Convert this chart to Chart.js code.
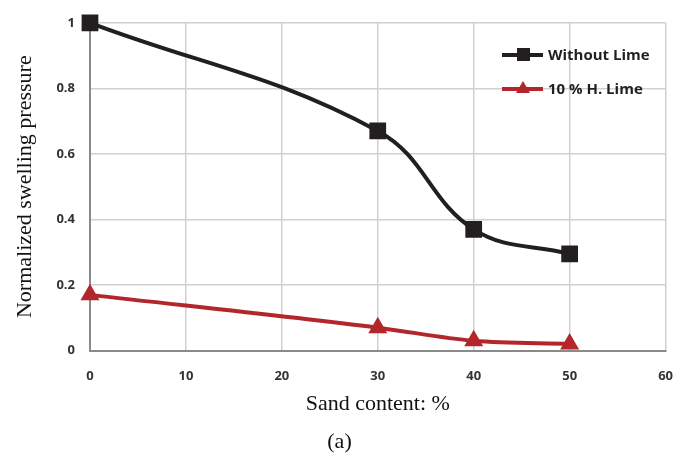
<!DOCTYPE html>
<html><head><meta charset="utf-8">
<script src="https://cdn.jsdelivr.net/npm/chart.js@4"></script>
<style>html,body{margin:0;padding:0;background:#fff}#wrap{width:691px;height:453px}</style>
</head><body><div id="wrap"><canvas id="c" width="691" height="453"></canvas></div>
<script>
const sandContent = [0, 30, 40, 50];
const withoutLime = [1, 0.67, 0.37, 0.295];
const hLime10 = [0.17, 0.07, 0.03, 0.02];
const seriesNames = ["Without Lime", "10 % H. Lime"];
const yTickLabels = ["0", "0.2", "0.4", "0.6", "0.8", "1"];
const xTickLabels = ["0", "10", "20", "30", "40", "50", "60"];

const legendPlugin = {
  id: 'insideLegend',
  afterDatasetsDraw(chart) {
    const ctx = chart.ctx;
    const items = chart.data.datasets;
    const x0 = 502, y0 = 55, gap = 34;
    ctx.save();
    items.forEach((ds, i) => {
      const y = y0 + i * gap;
      ctx.strokeStyle = ds.borderColor; ctx.lineWidth = 4;
      ctx.beginPath(); ctx.moveTo(x0, y); ctx.lineTo(x0 + 41, y); ctx.stroke();
      ctx.fillStyle = ds.backgroundColor;
      if (ds.pointStyle === 'rect') { ctx.fillRect(x0 + 15, y - 7, 13, 13); }
      else { ctx.beginPath(); ctx.moveTo(x0 + 21, y - 8); ctx.lineTo(x0 + 28, y + 4); ctx.lineTo(x0 + 14, y + 4); ctx.closePath(); ctx.fill(); }
      ctx.fillStyle = '#231f20';
      ctx.font = 'bold 15px "Open Sans", sans-serif';
      ctx.textBaseline = 'middle'; ctx.textAlign = 'left';
      ctx.fillText(ds.label, x0 + 46, y + 1);
    });
    ctx.restore();
  }
};

new Chart(document.getElementById('c'), {
  type: 'line',
  data: {
    datasets: [
      { label: seriesNames[0], data: sandContent.map((x, i) => ({x, y: withoutLime[i]})),
        borderColor: '#231f20', backgroundColor: '#231f20', borderWidth: 4, clip: false,
        pointStyle: 'rect', pointRadius: 9, pointHoverRadius: 9, tension: 0.4 },
      { label: seriesNames[1], data: sandContent.map((x, i) => ({x, y: hLime10[i]})),
        borderColor: '#b3262b', backgroundColor: '#b3262b', borderWidth: 4, clip: false,
        pointStyle: 'triangle', pointRadius: 7, pointHoverRadius: 7, cubicInterpolationMode: 'monotone' }
    ]
  },
  options: {
    responsive: false, animation: false,
    layout: { padding: { left: 12, right: 24, top: 1, bottom: 0 } },
    plugins: {
      legend: { display: false }, tooltip: { enabled: false },
      title: { display: true, position: 'bottom', text: '(a)', color: '#111',
        font: { family: '"Liberation Serif", "Times New Roman", serif', size: 22, weight: 'normal' }, padding: { top: 11, bottom: -2 } }
    },
    scales: {
      x: { type: 'linear', min: 0, max: 60,
        ticks: { stepSize: 10, color: '#333', padding: 18,
          font: { family: '"Open Sans", sans-serif', size: 13, weight: 'bold' },
          callback: (v) => xTickLabels[Math.round(v / 10)] },
        grid: { color: '#d0d0d0', lineWidth: 1.5, drawTicks: false },
        border: { color: '#8a8a8a', width: 2 },
        title: { display: true, text: 'Sand content: %', color: '#111', padding: { top: -11, bottom: 0 },
          font: { family: '"Liberation Serif", "Times New Roman", serif', size: 22 } } },
      y: { min: 0, max: 1,
        ticks: { stepSize: 0.2, color: '#333', padding: 15,
          font: { family: '"Open Sans", sans-serif', size: 13, weight: 'bold' },
          callback: (v) => yTickLabels[Math.round(v / 0.2)] },
        grid: { color: '#d0d0d0', lineWidth: 1.5, drawTicks: false },
        border: { color: '#8a8a8a', width: 2 },
        title: { display: true, text: 'Normalized swelling pressure', color: '#111', padding: { top: 0, bottom: 3 },
          font: { family: '"Liberation Serif", "Times New Roman", serif', size: 22 } } }
    }
  },
  plugins: [legendPlugin]
});
</script></body></html>
